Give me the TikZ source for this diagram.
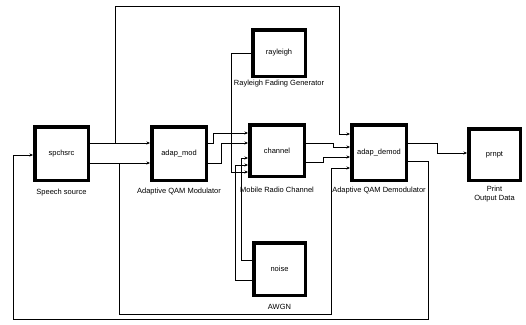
\documentclass[tikz,border=0pt]{standalone}
\usepackage{fontspec}
\setmainfont{Liberation Sans}
\usetikzlibrary{arrows.meta}
\usetikzlibrary{positioning}

\tikzset{
  blk/.style={draw,line width=3.5pt,fill=white,inner sep=0pt,font=\fontsize{7.5}{9}\selectfont},
  lab/.style={font=\fontsize{7.5}{9}\selectfont,inner sep=1pt,align=center},
  wire/.style={line width=0.8pt},
  arr/.style={wire,-{Stealth[length=3.5pt,width=3pt]}},
}

\begin{document}
\begin{tikzpicture}[x=1pt,y=-1pt]
       \useasboundingbox (0,0) rectangle (526,324);
       % blocks
       \node[blk,minimum width=53.5pt,minimum height=53.5pt] (spch) at (61.5,153.5) {spchsrc};
       \node[blk,minimum width=54.5pt,minimum height=53.5pt] (mod) at (179,153.5) {adap\_mod};
       \node[blk,minimum width=54.5pt,minimum height=51.5pt] (chan) at (277,150.5) {channel};
       \node[blk,minimum width=54.5pt,minimum height=55.5pt] (demod) at (379,152.5) {adap\_demod};
       \node[blk,minimum width=51.5pt,minimum height=51.5pt] (prn) at (494.5,154.5) {prnpt};
       \node[blk,minimum width=52.5pt,minimum height=46.5pt] (ray) at (279,53) {rayleigh};
       \node[blk,minimum width=51.5pt,minimum height=52.5pt] (noise) at (279.5,269) {noise};
       % labels
       \node[lab,below=6pt of spch] (spchlab) {Speech source};
       \node[lab,below=5pt of mod] (modlab) {Adaptive QAM Modulator};
       \node[lab,below=8pt of chan] (chanlab) {Mobile Radio Channel};
       \node[lab,below=4pt of demod] (demodlab) {Adaptive QAM Demodulator};
       \node[lab,below=3pt of prn] (prnlab) {Print\\Output Data};
       \node[lab,below=1pt of ray] (raylab) {Rayleigh Fading Generator};
       \node[lab,below=6pt of noise] (noiselab) {AWGN};
       % ports
       \coordinate (spch-i) at (33,155);
       \coordinate (spch-o1) at (90,143);
       \coordinate (spch-o2) at (90,163);
       \coordinate (mod-i1) at (150,143);
       \coordinate (mod-i2) at (150,163);
       \coordinate (mod-o1) at (208,143);
       \coordinate (mod-o2) at (208,163);
       \coordinate (chan-i1) at (248,133);
       \coordinate (chan-i2) at (248,143);
       \coordinate (chan-i3) at (248,158);
       \coordinate (chan-i4) at (248,165);
       \coordinate (chan-i5) at (248,172);
       \coordinate (chan-o1) at (306,143);
       \coordinate (chan-o2) at (306,162);
       \coordinate (ray-p) at (251,53);
       \coordinate (noise-p1) at (252,260);
       \coordinate (noise-p2) at (252,280);
       \coordinate (demod-i1) at (350,134);
       \coordinate (demod-i2) at (350,147);
       \coordinate (demod-i3) at (350,157);
       \coordinate (demod-i4) at (350,168);
       \coordinate (demod-o1) at (408,143);
       \coordinate (demod-o2) at (408,161);
       \coordinate (prn-i) at (467,153);
       \coordinate (br1) at (115,143);
       \coordinate (br2) at (119,163);
       % wires
       \draw[arr] (spch-o1) -- (mod-i1);
       \draw[arr] (spch-o2) -- (mod-i2);
       \draw[arr] (br1) -- (115,6) -- (339,6) |- (demod-i1);
       \draw[arr] (br2) -- (119,314) -- (331,314) |- (demod-i4);
       \draw[arr] (demod-o2) -- (428,161) -- (428,319) -- (13,319) |- (spch-i);
       \draw[arr] (mod-o1) -- (213,143) |- (chan-i1);
       \draw[arr] (mod-o2) -- (221,163) |- (chan-i2);
       \draw[arr] (ray-p) -- (231,53) |- (chan-i5);
       \draw[arr] (noise-p1) -- (241,260) |- (chan-i3);
       \draw[arr] (noise-p2) -- (235,280) |- (chan-i4);
       \draw[arr] (chan-o1) -- (333,143) |- (demod-i2);
       \draw[arr] (chan-o2) -- (323,162) |- (demod-i3);
       \draw[arr] (demod-o1) -- (437,143) |- (prn-i);
     \end{tikzpicture}
\end{document}
